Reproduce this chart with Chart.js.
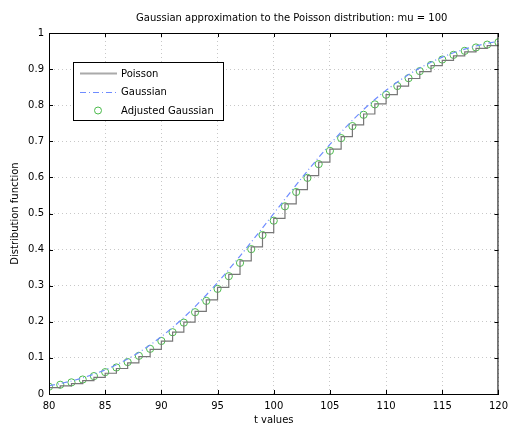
<!DOCTYPE html>
<html>
<head>
<meta charset="UTF-8">
<title>Poisson vs Gaussian</title>
<script src="https://cdn.jsdelivr.net/npm/chart.js"></script>
<style>
  html, body { margin: 0; padding: 0; background: #fff; }
  canvas { display: block; }
</style>
</head>
<body>
<canvas id="myChart" width="514" height="426"></canvas>
<script>
// valores de t (eixo x)
const tValues = [80, 81, 82, 83, 84, 85, 86, 87, 88, 89, 90,
    91, 92, 93, 94, 95, 96, 97, 98, 99, 100,
    101, 102, 103, 104, 105, 106, 107, 108, 109, 110,
    111, 112, 113, 114, 115, 116, 117, 118, 119, 120];

// funcao de distribuicao de Poisson (mu = 100), P(X < t)
const poisson = [0.0174, 0.0226, 0.0290, 0.0369, 0.0463, 0.0575, 0.0707, 0.0861, 0.1038, 0.1238, 0.1464,
    0.1714, 0.1989, 0.2288, 0.2610, 0.2952, 0.3312, 0.3687, 0.4074, 0.4468, 0.4867,
    0.5266, 0.5661, 0.6048, 0.6423, 0.6785, 0.7129, 0.7453, 0.7756, 0.8037, 0.8295,
    0.8529, 0.8740, 0.8928, 0.9095, 0.9241, 0.9368, 0.9478, 0.9572, 0.9651, 0.9718];

// aproximacao gaussiana
const gaussian = [0.0228, 0.0287, 0.0359, 0.0446, 0.0548, 0.0668, 0.0808, 0.0968, 0.1151, 0.1357, 0.1587,
    0.1841, 0.2119, 0.2420, 0.2743, 0.3085, 0.3446, 0.3821, 0.4207, 0.4602, 0.5000,
    0.5398, 0.5793, 0.6179, 0.6554, 0.6915, 0.7257, 0.7580, 0.7881, 0.8159, 0.8413,
    0.8643, 0.8849, 0.9032, 0.9192, 0.9332, 0.9452, 0.9554, 0.9641, 0.9713, 0.9772];

// gaussiana ajustada (correcao de continuidade)
const adjusted = [0.0202, 0.0256, 0.0322, 0.0401, 0.0495, 0.0606, 0.0735, 0.0885, 0.1057, 0.1251, 0.1469,
    0.1711, 0.1977, 0.2266, 0.2579, 0.2912, 0.3264, 0.3632, 0.4013, 0.4404, 0.4801,
    0.5199, 0.5596, 0.5987, 0.6368, 0.6736, 0.7088, 0.7422, 0.7734, 0.8023, 0.8289,
    0.8531, 0.8749, 0.8944, 0.9115, 0.9265, 0.9394, 0.9505, 0.9599, 0.9678, 0.9744];

const xTicks = [80, 85, 90, 95, 100, 105, 110, 115, 120];
const yTicks = [0, 0.1, 0.2, 0.3, 0.4, 0.5, 0.6, 0.7, 0.8, 0.9, 1];

const corPoisson = '#777777';
const corGauss = '#6f8cff';
const corAjust = '#4cbb4c';
const fonte = '"DejaVu Sans", sans-serif';

function pontos(ys) {
    return tValues.map((t, i) => ({ x: t, y: ys[i] }));
}

// titulo, moldura e legenda desenhados direto no canvas
const extras = {
    id: 'extras',
    afterDraw(chart) {
        const ctx = chart.ctx;
        const a = chart.chartArea;
        ctx.save();

        // moldura
        ctx.strokeStyle = '#000';
        ctx.lineWidth = 1;
        ctx.strokeRect(a.left + 0.5, a.top + 0.5, a.right - a.left - 1, a.bottom - a.top);

        // marcas de escala para dentro
        const xs = chart.scales.x, ys = chart.scales.y;
        ctx.beginPath();
        xTicks.forEach(v => {
            const px = Math.round(xs.getPixelForValue(v)) + 0.5;
            ctx.moveTo(px, a.bottom); ctx.lineTo(px, a.bottom - 4);
            ctx.moveTo(px, a.top); ctx.lineTo(px, a.top + 4);
        });
        yTicks.forEach(v => {
            const py = Math.round(ys.getPixelForValue(v)) + 0.5;
            ctx.moveTo(a.left, py); ctx.lineTo(a.left + 4, py);
            ctx.moveTo(a.right, py); ctx.lineTo(a.right - 4, py);
        });
        ctx.stroke();

        // titulo
        ctx.fillStyle = '#000';
        ctx.font = '10px ' + fonte;
        ctx.textAlign = 'center';
        ctx.textBaseline = 'middle';
        ctx.fillText('Gaussian approximation to the Poisson distribution: mu = 100', (a.left + a.right) / 2 + 18, 18);

        // legenda
        const lx = 73, ly = 62, lw = 150, lh = 58;
        ctx.fillStyle = '#fff';
        ctx.fillRect(lx, ly, lw, lh);
        ctx.strokeStyle = '#000';
        ctx.strokeRect(lx + 0.5, ly + 0.5, lw, lh);

        ctx.lineWidth = 2;
        ctx.strokeStyle = '#aaaaaa';
        ctx.beginPath(); ctx.moveTo(80, 73.5); ctx.lineTo(117, 73.5); ctx.stroke();

        ctx.lineWidth = 1;
        ctx.strokeStyle = corGauss;
        ctx.setLineDash([6, 3, 1, 3]);
        ctx.beginPath(); ctx.moveTo(80, 92.5); ctx.lineTo(117, 92.5); ctx.stroke();
        ctx.setLineDash([]);

        ctx.strokeStyle = corAjust;
        ctx.beginPath(); ctx.arc(98, 110.5, 3.5, 0, Math.PI * 2); ctx.stroke();

        ctx.fillStyle = '#000';
        ctx.textAlign = 'left';
        ctx.fillText('Poisson', 121, 74);
        ctx.fillText('Gaussian', 121, 92);
        ctx.fillText('Adjusted Gaussian', 121, 111);
        ctx.restore();
    }
};

Chart.defaults.font.family = fonte;
Chart.defaults.font.size = 10;
Chart.defaults.color = '#000';

new Chart(document.getElementById('myChart'), {
    type: 'line',
    data: {
        datasets: [
            {
                label: 'Poisson',
                data: pontos(poisson),
                stepped: true,
                borderColor: corPoisson,
                borderWidth: 1.2,
                pointRadius: 0,
                fill: false
            },
            {
                label: 'Gaussian',
                data: pontos(gaussian),
                borderColor: corGauss,
                borderWidth: 1.2,
                borderDash: [6, 3, 1, 3],
                pointRadius: 0,
                tension: 0,
                fill: false
            },
            {
                label: 'Adjusted Gaussian',
                data: pontos(adjusted),
                showLine: false,
                borderColor: corAjust,
                backgroundColor: 'rgba(0,0,0,0)',
                borderWidth: 1,
                pointStyle: 'circle',
                pointRadius: 3.6
            }
        ]
    },
    options: {
        responsive: false,
        animation: false,
        layout: { padding: { top: 33, right: 9, left: 0, bottom: 0 } },
        plugins: {
            legend: { display: false },
            title: { display: false },
            tooltip: { enabled: false }
        },
        scales: {
            x: {
                type: 'linear',
                min: 80,
                max: 120,
                afterBuildTicks: s => { s.ticks = xTicks.map(v => ({ value: v })); },
                afterFit: s => { s.height = 32; },
                grid: { color: '#c8c8c8', drawTicks: false },
                border: { display: true, color: '#000', dash: [1, 3] },
                ticks: { padding: 6, maxRotation: 0, font: { size: 10 } },
                title: { display: true, text: 't values', padding: { top: 0, bottom: 0 }, font: { size: 10 } }
            },
            y: {
                min: 0,
                max: 1,
                afterBuildTicks: s => { s.ticks = yTicks.map(v => ({ value: v })); },
                afterFit: s => { s.width = 49; },
                grid: { color: '#c8c8c8', drawTicks: false },
                border: { display: true, color: '#000', dash: [1, 3] },
                ticks: { padding: 5, font: { size: 10 }, callback: v => String(Math.round(v * 10) / 10) },
                title: { display: true, text: 'Distribution function', padding: { top: 9, bottom: 0 }, font: { size: 10 } }
            }
        }
    },
    plugins: [extras]
});
</script>
</body>
</html>
